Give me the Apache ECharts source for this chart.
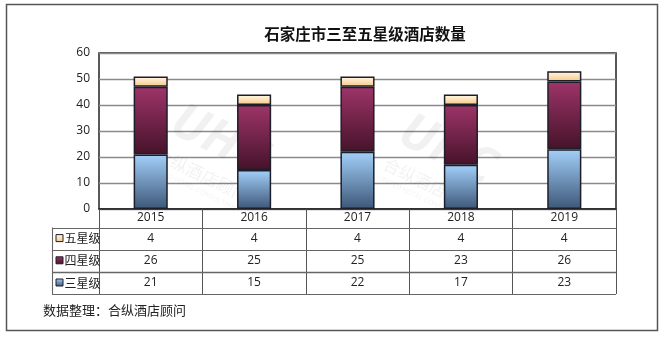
<!DOCTYPE html>
<html>
<head>
<meta charset="utf-8">
<script src="https://cdn.jsdelivr.net/npm/echarts@6/dist/echarts.min.js"></script>
<style>
html, body { margin: 0; padding: 0; background: #fff; }
#chart { width: 665px; height: 338px; }
</style>
</head>
<body>
<div id="chart"></div>
<script>
// Hotel counts by star rating, Shijiazhuang
const years = ['2015', '2016', '2017', '2018', '2019'];
const threeStar = [21, 15, 22, 17, 23];
const fourStar = [26, 25, 25, 23, 26];
const fiveStar = [4, 4, 4, 4, 4];
const yMin = 0, yMax = 60, yStep = 10;

const titleText = '石家庄市三至五星级酒店数量';
const sourceText = '数据整理：合纵酒店顾问';

const FONT = '"Open Sans", "Noto Sans CJK SC", sans-serif';
const CJK = '"Noto Sans CJK SC", sans-serif';

function grad(top, bottom) {
  return new echarts.graphic.LinearGradient(0, 0, 0, 1, [
    { offset: 0, color: top },
    { offset: 1, color: bottom }
  ]);
}
const fills = {
  '三星级': () => grad('#a3d0fa', '#3d5778'),
  '四星级': () => grad('#9e3469', '#451329'),
  '五星级': () => grad('#fffbe8', '#f7c585')
};
const barBorder = { borderColor: '#1e1e2a', borderWidth: 1.5 };

// table rows, top to bottom
const tableRows = [
  { name: '五星级', values: fiveStar },
  { name: '四星级', values: fourStar },
  { name: '三星级', values: threeStar }
];

const chart = echarts.init(document.getElementById('chart'), null, { renderer: 'canvas' });

function makeSeries(name, data) {
  return {
    name: name,
    type: 'bar',
    stack: 'total',
    barWidth: '33%',
    data: data,
    itemStyle: Object.assign({ color: fills[name]() }, barBorder),
    emphasis: { disabled: true },
    z: 3
  };
}

const option = {
  animation: false,
  textStyle: { fontFamily: FONT },
  title: {
    text: titleText,
    left: 360,
    top: 21,
    textAlign: 'center',
    textStyle: { fontSize: 15.5, fontWeight: 'bold', color: '#111', fontFamily: CJK }
  },
  grid: {
    left: 99, right: 49, top: 53, bottom: 129,
    show: true, borderColor: '#222', borderWidth: 1.5, backgroundColor: 'transparent'
  },
  xAxis: {
    type: 'category',
    data: years,
    axisLine: { lineStyle: { color: '#222', width: 1.5 } },
    axisTick: { show: true, alignWithLabel: false, length: 85, lineStyle: { color: '#555', width: 1 } },
    axisLabel: { color: '#222', fontSize: 12, margin: 3, fontFamily: FONT }
  },
  yAxis: {
    type: 'value',
    min: yMin, max: yMax, interval: yStep,
    axisLine: { show: false },
    axisTick: { show: false },
    axisLabel: { color: '#222', fontSize: 12, margin: 9, fontFamily: FONT },
    splitLine: { lineStyle: { color: '#8a8a8a', width: 1.4 } }
  },
  series: [
    makeSeries('三星级', threeStar),
    makeSeries('四星级', fourStar),
    makeSeries('五星级', fiveStar)
  ]
};
chart.setOption(option);

// Data table, outer frame, watermark and source note
function buildExtras() {
  const rect = chart.getModel().getComponent('grid').coordinateSystem.getRect();
  const right = rect.x + rect.width, bottom = rect.y + rect.height;
  const headerH = 18.5, rowH = 22.2;
  const labelColLeft = 52;
  const els = [];
  const lineColor = '#666';

  // horizontal table lines
  for (let r = 0; r <= tableRows.length; r++) {
    const y = Math.round(bottom + headerH + r * rowH) + 0.5;
    els.push({
      type: 'line', z: 5,
      shape: { x1: labelColLeft, y1: y, x2: right, y2: y },
      style: { stroke: lineColor, lineWidth: r === 2 ? 1.6 : 1.1 }
    });
  }
  // left edge of the label column
  els.push({
    type: 'line', z: 5,
    shape: { x1: labelColLeft + 0.5, y1: bottom + headerH, x2: labelColLeft + 0.5, y2: bottom + headerH + tableRows.length * rowH },
    style: { stroke: lineColor, lineWidth: 1.1 }
  });

  tableRows.forEach((row, r) => {
    const cy = bottom + headerH + (r + 0.5) * rowH;
    // legend swatch
    els.push({
      type: 'rect', z: 6,
      shape: { x: labelColLeft + 4, y: cy - 4, width: 7, height: 7 },
      style: { fill: fills[row.name](), stroke: '#1e1e2a', lineWidth: 1 }
    });
    els.push({
      type: 'text', z: 6, x: labelColLeft + 12.5, y: cy,
      style: { text: row.name, font: '12px ' + CJK, fill: '#222', textVerticalAlign: 'middle', textAlign: 'left' }
    });
    row.values.forEach((v, i) => {
      const cx = chart.convertToPixel({ xAxisIndex: 0 }, years[i]);
      els.push({
        type: 'text', z: 6, x: cx, y: cy,
        style: { text: String(v), font: '12px ' + FONT, fill: '#222', textAlign: 'center', textVerticalAlign: 'middle' }
      });
    });
  });

  // outer frame
  els.push({
    type: 'rect', z: 0,
    shape: { x: 6.5, y: 4.5, width: 651, height: 326 },
    style: { fill: 'none', stroke: '#555', lineWidth: 1.5 }
  });

  // source note
  els.push({
    type: 'text', z: 6, x: 43, y: 310,
    style: { text: sourceText, font: '13px ' + CJK, fill: '#222', textVerticalAlign: 'middle' }
  });

  // faint company watermark
  const wm = 'rgba(0,0,0,0.055)';
  [[212, 155], [440, 165]].forEach(([wx, wy]) => {
    els.push({
      type: 'group', x: wx, y: wy, rotation: -Math.PI / 7, z: 1,
      children: [
        { type: 'text', x: 0, y: -16, style: { text: 'UHC', font: 'italic bold 50px ' + FONT, fill: wm, textAlign: 'center', textVerticalAlign: 'middle' } },
        { type: 'text', x: 0, y: 22, style: { text: '合纵酒店顾问', font: '17px ' + CJK, fill: wm, textAlign: 'center', textVerticalAlign: 'middle' } },
        { type: 'text', x: 0, y: 38, style: { text: 'UNITED HOTEL CONSULTANCY', font: '7px ' + FONT, fill: wm, textAlign: 'center', textVerticalAlign: 'middle' } }
      ]
    });
  });

  chart.setOption({ graphic: { elements: els } });
}
buildExtras();
</script>
</body>
</html>
